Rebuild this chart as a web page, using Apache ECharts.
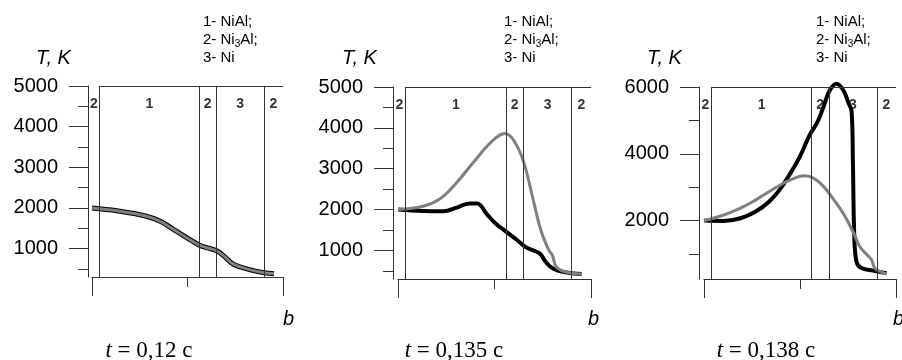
<!DOCTYPE html>
<html>
<head>
<meta charset="utf-8">
<script src="https://cdn.jsdelivr.net/npm/echarts@6/dist/echarts.min.js"></script>
<style>
  html, body { margin: 0; background: #fff; }
  #chart { width: 902px; height: 360px; }
</style>
</head>
<body>
<div id="chart"></div>
<script>
// zone boundaries along b (same for all three moments)
const zoneBounds = [0.04, 0.56, 0.65, 0.9];
const zoneNames = ["2", "1", "2", "3", "2"];
const bTicksLong = [0, 1];
const bTicksShort = [0.5];
const tMajor5000 = [1000, 2000, 3000, 4000, 5000];
const tMinor5000 = [500, 1500, 2500, 3500, 4500];
const tMajor6000 = [2000, 4000, 6000];
const tMinor6000 = [1000, 3000, 5000];
const times = ["0,12", "0,135", "0,138"];

// t = 0,12 c : both curves coincide
const b1 = [0, 0.13, 0.28, 0.36, 0.43, 0.5, 0.56, 0.6, 0.65, 0.69, 0.74, 0.83, 0.9, 0.953];
const T1 = [2000, 1930, 1800, 1665, 1460, 1255, 1090, 1020, 950, 820, 615, 475, 405, 380];

// t = 0,135 c
const b2Black = [0, 0.13, 0.235, 0.3, 0.37, 0.41, 0.46, 0.51, 0.56, 0.615, 0.66, 0.7, 0.736, 0.762, 0.805, 0.874, 0.951];
const T2Black = [2000, 1965, 1960, 2040, 2150, 2150, 1890, 1640, 1460, 1262, 1085, 1000, 920, 740, 550, 460, 420];
const b2Gray = [0, 0.13, 0.22, 0.3, 0.39, 0.48, 0.555, 0.6, 0.65, 0.7, 0.74, 0.78, 0.8, 0.82, 0.87, 0.951];
const T2Gray = [2000, 2080, 2270, 2640, 3150, 3640, 3860, 3690, 3180, 2250, 1500, 1020, 880, 600, 470, 420];

// t = 0,138 c
const b3Black = [0, 0.1, 0.19, 0.27, 0.34, 0.4, 0.45, 0.5, 0.55, 0.59, 0.62, 0.655, 0.69, 0.725, 0.75, 0.769, 0.776, 0.783, 0.795, 0.82, 0.88, 0.951];
const T3Black = [2000, 1990, 2070, 2270, 2570, 2970, 3420, 3920, 4560, 4940, 5370, 5900, 6100, 5910, 5560, 5260, 3600, 1500, 750, 580, 500, 420];
const b3Gray = [0, 0.1, 0.19, 0.27, 0.36, 0.45, 0.526, 0.57, 0.62, 0.67, 0.73, 0.78, 0.81, 0.85, 0.873, 0.89, 0.93, 0.951];
const T3Gray = [2000, 2160, 2370, 2620, 2940, 3220, 3340, 3270, 3040, 2670, 2170, 1620, 1230, 970, 820, 575, 440, 405];

const FONT = "Liberation Sans";
const AXIS = "#333";

const panels = [
  { left: 92, width: 191, top: 86, height: 191, yOffset: 4, yMin: 300, yMax: 5000,
    major: tMajor5000, minor: tMinor5000, black: [b1, T1], gray: [b1, T1], blackWidth: 5,
    tkLeft: 36, legendLeft: 203, bLeft: 283, captionX: 149 },
  { left: 398, width: 193, top: 87, height: 192, yOffset: 5, yMin: 300, yMax: 5000,
    major: tMajor5000, minor: tMinor5000, black: [b2Black, T2Black], gray: [b2Gray, T2Gray], blackWidth: 4,
    tkLeft: 342, legendLeft: 504, bLeft: 588, captionX: 454 },
  { left: 704, width: 192, top: 87, height: 192, yOffset: 5, yMin: 250, yMax: 6000,
    major: tMajor6000, minor: tMinor6000, black: [b3Black, T3Black], gray: [b3Gray, T3Gray], blackWidth: 4,
    tkLeft: 647, legendLeft: 816, bLeft: 893, captionX: 766 },
];

function zip(xs, ys) {
  return xs.map((x, i) => [x, ys[i]]);
}

const option = {
  animation: false,
  backgroundColor: "#fff",
  grid: [],
  xAxis: [],
  yAxis: [],
  series: [],
  title: [],
};

panels.forEach((p, i) => {
  option.grid.push({ left: p.left, top: p.top, width: p.width, height: p.height });

  const axisBase = { gridIndex: i, type: "value", splitLine: { show: false } };
  option.xAxis.push(
    { ...axisBase, min: 0, max: 1, position: "bottom",
      axisLine: { show: true, onZero: false, lineStyle: { color: AXIS, width: 1 } },
      axisTick: { show: true, length: 19, customValues: bTicksLong, lineStyle: { color: AXIS } },
      axisLabel: { show: false } },
    { ...axisBase, min: 0, max: 1, position: "bottom",
      axisLine: { show: false, onZero: false },
      axisTick: { show: true, length: 10, customValues: bTicksShort, lineStyle: { color: AXIS } },
      axisLabel: { show: false } }
  );
  option.yAxis.push(
    { ...axisBase, min: p.yMin, max: p.yMax, position: "left", offset: p.yOffset,
      axisLine: { show: true, onZero: false, lineStyle: { color: AXIS, width: 1 } },
      axisTick: { show: true, length: 19, customValues: p.major, lineStyle: { color: AXIS } },
      axisLabel: { show: true, customValues: p.major, margin: 30, fontSize: 20, fontFamily: FONT, color: "#000",
        formatter: (v) => String(v) } },
    { ...axisBase, min: p.yMin, max: p.yMax, position: "left", offset: p.yOffset,
      axisLine: { show: false, onZero: false },
      axisTick: { show: true, length: 10, customValues: p.minor, lineStyle: { color: AXIS } },
      axisLabel: { show: false } }
  );

  // zone edges: y axis itself, then the boundaries, then the end of b
  const edges = [-p.yOffset / p.width, ...zoneBounds, 1];
  const labelLevel = p.yMax - 0.095 * (p.yMax - p.yMin);
  const zoneLabels = zoneNames.map((name, k) => ({
    name,
    value: [(edges[k] + edges[k + 1]) / 2, labelLevel],
  }));

  option.series.push(
    {
      type: "line", xAxisIndex: 2 * i, yAxisIndex: 2 * i,
      data: zip(p.black[0], p.black[1]),
      showSymbol: false, smooth: 0.4, clip: false, z: 2,
      lineStyle: { color: "#000", width: p.blackWidth },
      markLine: {
        silent: true, symbol: ["none", "none"], label: { show: false },
        lineStyle: { color: AXIS, width: 1, type: "solid" },
        data: [
          ...zoneBounds.map((b) => ({ xAxis: b })),
          [{ coord: [zoneBounds[0], p.yMax] }, { coord: [1, p.yMax] }],
        ],
      },
    },
    {
      type: "line", xAxisIndex: 2 * i, yAxisIndex: 2 * i,
      data: zip(p.gray[0], p.gray[1]),
      showSymbol: false, smooth: 0.4, clip: false, z: 3,
      lineStyle: { color: "#808080", width: 3 },
    },
    {
      type: "scatter", xAxisIndex: 2 * i, yAxisIndex: 2 * i,
      data: zoneLabels, symbolSize: 0, silent: true, z: 4,
      label: { show: true, position: "inside", formatter: "{b}", fontSize: 14, fontWeight: "bold", fontFamily: FONT, color: "#000" },
    }
  );

  option.title.push(
    { text: "T, K", left: p.tkLeft, top: 48, padding: 0,
      textStyle: { fontSize: 20, fontStyle: "italic", fontWeight: "normal", fontFamily: FONT, color: "#000" } },
    { text: "1- NiAl;\n2- Ni{s|3}Al;\n3- Ni", left: p.legendLeft, top: 13, padding: 0,
      textStyle: { fontSize: 15, lineHeight: 18, fontWeight: "normal", fontFamily: FONT, color: "#000",
        rich: { s: { fontSize: 10, fontFamily: FONT, color: "#000", padding: [8, 0, 0, 0] } } } },
    { text: "b", left: p.bLeft, top: 309, padding: 0,
      textStyle: { fontSize: 20, fontStyle: "italic", fontWeight: "normal", fontFamily: FONT, color: "#000" } },
    { text: "{i|t} = " + times[i] + " c", left: p.captionX, top: 339, padding: 0, textAlign: "center",
      textStyle: { fontSize: 23, fontWeight: "normal", fontFamily: "Liberation Serif", color: "#000",
        rich: { i: { fontSize: 23, fontStyle: "italic", fontFamily: "Liberation Serif", color: "#000" } } } }
  );
});

const chart = echarts.init(document.getElementById("chart"));
chart.setOption(option);
</script>
</body>
</html>
